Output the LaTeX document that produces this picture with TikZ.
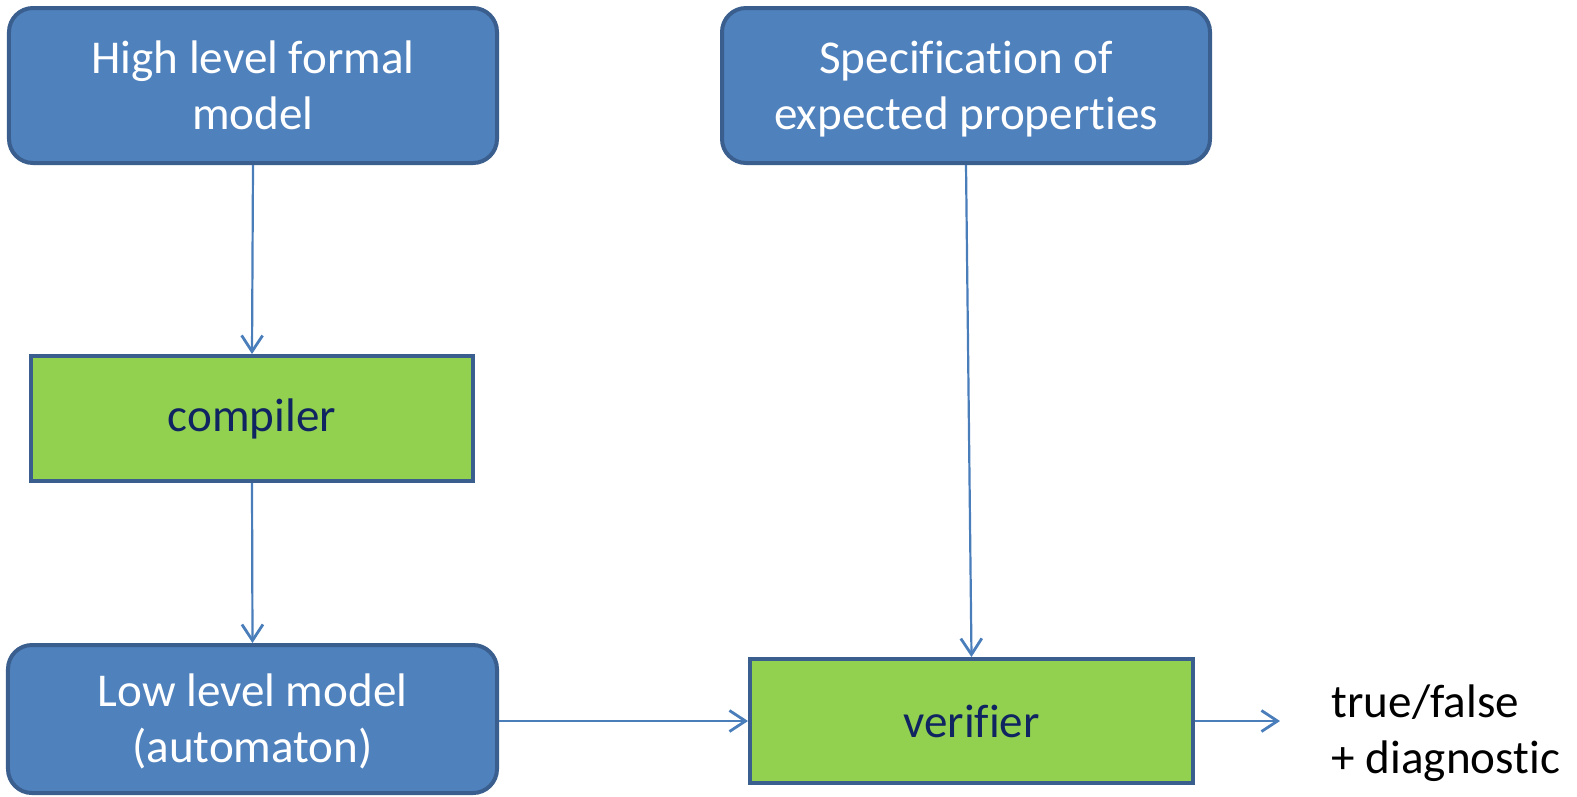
\documentclass[tikz,border=0pt]{standalone}
\usepackage{fontspec}
\setmainfont[Ligatures=NoCommon]{Carlito}
\usetikzlibrary{arrows.meta}
\definecolor{boxblue}{HTML}{4F81BD}
\definecolor{boxline}{HTML}{3A5F8E}
\definecolor{toolgreen}{HTML}{92D050}
\definecolor{flowline}{HTML}{4A7EBB}
\definecolor{tooltext}{HTML}{0F2460}
% two centred lines with fixed top and bottom extent
\newcommand{\twolines}[2]{\rule{0pt}{13pt}#1\\#2\rule[-4pt]{0pt}{4pt}}
\begin{document}
\begin{tikzpicture}[font=\fontsize{13.4}{16}\selectfont]
% Canvas is 15.77 x 7.96 cm, origin at top left, y going down.
\useasboundingbox (0,0) rectangle (15.77,-7.96);

\tikzset{
  model/.style={rectangle,rounded corners=0.24cm,fill=boxblue,draw=boxline,
    line width=0.04cm,text=white,align=center,inner sep=0pt},
  tool/.style={rectangle,fill=toolgreen,draw=boxline,line width=0.04cm,
    text=tooltext,align=center,inner sep=0pt},
  flow/.style={flowline,line width=0.022cm,
    -{Straight Barb[length=0.16cm,width=0.21cm,line width=0.028cm]}}
}

% Models and tools.
\node[model,minimum width=4.88cm,minimum height=1.55cm] (hlm) at (2.53,-0.855) {\twolines{High level formal}{model}};
\node[model,minimum width=4.88cm,minimum height=1.55cm] (spec) at (9.66,-0.855) {\twolines{Specification of}{expected properties}};
\node[tool,minimum width=4.42cm,minimum height=1.25cm] (comp) at (2.52,-4.185) {compiler};
\node[model,minimum width=4.89cm,minimum height=1.48cm] (llm) at (2.525,-7.19) {\twolines{Low level model}{(automaton)}};
\node[tool,minimum width=4.43cm,minimum height=1.24cm] (verif) at (9.715,-7.21) {verifier};

% Verdict.
\node[anchor=west,align=left,inner sep=0pt] (res) at (13.31,-7.33) {true/false\\+ diagnostic};
\coordinate (resin) at (12.80,-7.21);

% Flow between the boxes.
\draw[flow] (hlm.south) -- (comp.north);
\draw[flow] (comp.south) -- (llm.north);
\draw[flow] (spec.south) -- (verif.north);
\draw[flow] (llm.east |- verif.west) -- (verif.west);
\draw[flow] (verif.east) -- (resin);
\end{tikzpicture}
\end{document}
